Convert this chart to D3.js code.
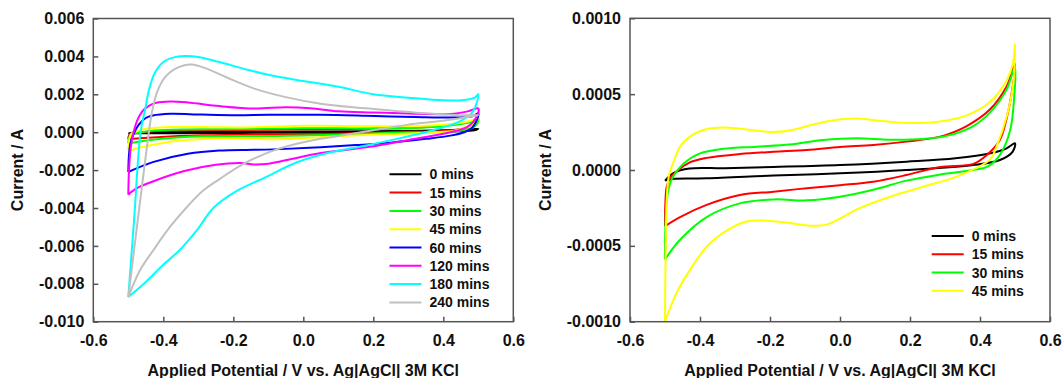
<!DOCTYPE html>
<html>
<head>
<meta charset="utf-8">
<script src="https://cdn.jsdelivr.net/npm/d3@7"></script>
<style>
  html, body { margin: 0; padding: 0; background: #fff; }
  svg { display: block; font-family: "Liberation Sans", Arial, sans-serif; }
</style>
</head>
<body>
<svg id="chart" width="1064" height="378"></svg>
<script>
// Cyclic voltammograms: [potential (V), current (A)] — anodic sweep, then the return sweep.
const seriesLabels = ["0 mins", "15 mins", "30 mins", "45 mins", "60 mins", "120 mins", "180 mins", "240 mins"];
const seriesColors = ["#000000", "#ff0000", "#00ff00", "#ffff00", "#0000ff", "#ff00ff", "#00ffff", "#c0c0c0"];

const loop0 = [
  [-0.5, -0.00007], [-0.476, -0.00002], [-0.43, 0.00001], [-0.33, 0.000012], [-0.19, 0.00002], [0, 0.000033],
  [0.19, 0.000055], [0.33, 0.000077], [0.43, 0.00011], [0.476, 0.000143], [0.5, 0.000176],
  [0.493, 0.00012], [0.457, 0.000066], [0.381, 0.000033], [0.19, 0.0], [0, -0.000022], [-0.19, -0.000037],
  [-0.381, -0.000055], [-0.476, -0.000058], [-0.5, -0.00007]
];
const loop15 = [
  [-0.5, -0.00037], [-0.499, -0.00022], [-0.495, -0.00011], [-0.485, -0.00005], [-0.467, -0.00001], [-0.429, 0.00005],
  [-0.381, 0.00008], [-0.286, 0.000105], [-0.19, 0.00012], [-0.095, 0.000132], [0, 0.000152], [0.095, 0.000165],
  [0.19, 0.000187], [0.286, 0.00022], [0.362, 0.00029], [0.429, 0.0004], [0.476, 0.00055], [0.5, 0.0007],
  [0.49, 0.0005], [0.476, 0.00034], [0.457, 0.0002], [0.42, 0.0001], [0.381, 0.00004], [0.286, 0.00002],
  [0.19, -0.000033], [0.095, -0.000077], [0, -0.0001], [-0.095, -0.00012], [-0.19, -0.000143], [-0.286, -0.000165],
  [-0.381, -0.00023], [-0.457, -0.00031], [-0.5, -0.00037]
];
const loop30 = [
  [-0.5, -0.00059], [-0.499, -0.0004], [-0.495, -0.0002], [-0.487, -0.0001], [-0.476, -0.00004], [-0.448, 0.00004],
  [-0.4, 0.00011], [-0.333, 0.00014], [-0.238, 0.000154], [-0.143, 0.000168], [-0.048, 0.000198], [0.048, 0.00021],
  [0.143, 0.0002], [0.238, 0.000205], [0.305, 0.000225], [0.381, 0.00029], [0.429, 0.00038], [0.476, 0.00053], [0.5, 0.00068],
  [0.497, 0.00046], [0.486, 0.00026], [0.457, 0.0001], [0.42, 0.00002], [0.381, 0.0], [0.286, -0.00003],
  [0.19, -0.00007], [0.095, -0.00013], [0, -0.000176], [-0.095, -0.0002], [-0.19, -0.000194], [-0.286, -0.00022],
  [-0.381, -0.00031], [-0.457, -0.00046], [-0.5, -0.00059]
];
const loop45 = [
  [-0.5, -0.001], [-0.499, -0.0007], [-0.497, -0.0004], [-0.494, -0.00015], [-0.489, -0.00004], [-0.476, 0.00005],
  [-0.457, 0.000154], [-0.429, 0.00022], [-0.381, 0.00027], [-0.333, 0.00028], [-0.286, 0.000272], [-0.24, 0.00026],
  [-0.19, 0.00025], [-0.143, 0.00026], [-0.076, 0.0003], [0, 0.000334], [0.048, 0.00034], [0.095, 0.00033],
  [0.19, 0.00031], [0.286, 0.00032], [0.362, 0.00036], [0.429, 0.00045], [0.476, 0.00059], [0.494, 0.0007], [0.5, 0.00083],
  [0.495, 0.00057], [0.476, 0.00035], [0.448, 0.00016], [0.429, 0.00007], [0.333, -0.000044], [0.238, -0.00011],
  [0.143, -0.000176], [0.048, -0.00026], [0, -0.00032], [-0.038, -0.00036], [-0.086, -0.000367], [-0.143, -0.00035],
  [-0.21, -0.000334], [-0.267, -0.00034], [-0.324, -0.0004], [-0.381, -0.000506], [-0.429, -0.00066],
  [-0.467, -0.00081], [-0.5, -0.001]
];
const loop60 = [
  [-0.5, -0.0021], [-0.498, -0.0012], [-0.494, -0.0006], [-0.485, -0.0001], [-0.47, 0.0004], [-0.45, 0.00075],
  [-0.43, 0.00088], [-0.38, 0.00097], [-0.29, 0.00093], [-0.19, 0.0009], [-0.1, 0.00092], [0.05, 0.00092],
  [0.18, 0.00087], [0.32, 0.0008], [0.45, 0.00078], [0.485, 0.00085], [0.5, 0.001],
  [0.495, 0.0006], [0.48, 0.0002], [0.46, 0.0], [0.42, -0.00018], [0.35, -0.00035], [0.25, -0.00055],
  [0.15, -0.00068], [0.05, -0.00079], [-0.05, -0.00088], [-0.14, -0.00093], [-0.24, -0.00097], [-0.33, -0.00114],
  [-0.43, -0.00158], [-0.5, -0.0021]
];
const loop120 = [
  [-0.5, -0.0033], [-0.498, -0.002], [-0.493, -0.0008], [-0.485, 0.0], [-0.475, 0.0006], [-0.46, 0.0011],
  [-0.44, 0.0014], [-0.42, 0.00155], [-0.38, 0.00162], [-0.33, 0.00157], [-0.24, 0.00138], [-0.14, 0.00125],
  [-0.05, 0.00132], [0.02, 0.00127], [0.1, 0.0011], [0.2, 0.00104], [0.3, 0.00099], [0.42, 0.00096],
  [0.47, 0.0011], [0.5, 0.00125],
  [0.495, 0.0008], [0.47, 0.0003], [0.42, 0.0], [0.32, -0.00035], [0.18, -0.0008], [0.05, -0.0011],
  [-0.03, -0.0014], [-0.1, -0.00166], [-0.14, -0.0017], [-0.18, -0.00163], [-0.25, -0.00172], [-0.34, -0.00205],
  [-0.43, -0.0026], [-0.48, -0.003], [-0.5, -0.0033]
];
const loop180 = [
  [-0.5, -0.0087], [-0.483, -0.0045], [-0.465, 0.0], [-0.452, 0.0012], [-0.44, 0.0023], [-0.425, 0.0031],
  [-0.4, 0.0037], [-0.37, 0.00395], [-0.34, 0.00402], [-0.3, 0.00397], [-0.24, 0.0037], [-0.16, 0.0033],
  [-0.1, 0.00303], [0.0, 0.0027], [0.1, 0.0024], [0.2, 0.002], [0.3, 0.00182], [0.4, 0.00168],
  [0.46, 0.0017], [0.49, 0.00182], [0.5, 0.002],
  [0.485, 0.0011], [0.45, 0.0006], [0.37, 0.0001], [0.28, -0.0003], [0.18, -0.0007], [0.07, -0.0011],
  [-0.02, -0.0016], [-0.11, -0.0024], [-0.19, -0.0031], [-0.257, -0.004], [-0.305, -0.0052], [-0.352, -0.0062],
  [-0.4, -0.007], [-0.45, -0.0079], [-0.5, -0.0087]
];
const loop240 = [
  [-0.5, -0.0087], [-0.472, -0.0045], [-0.447, -0.0008], [-0.432, 0.0011], [-0.418, 0.0021], [-0.395, 0.0029],
  [-0.37, 0.0033], [-0.34, 0.00353], [-0.32, 0.00357], [-0.28, 0.00338], [-0.22, 0.0029], [-0.14, 0.0023],
  [-0.05, 0.00185], [0.05, 0.0015], [0.15, 0.0013], [0.25, 0.00115], [0.35, 0.001], [0.45, 0.0009], [0.5, 0.0009],
  [0.47, 0.0008], [0.4, 0.0006], [0.3, 0.0004], [0.2, 0.0001], [0.1, -0.0002], [0.0, -0.00053],
  [-0.086, -0.00097], [-0.171, -0.00167], [-0.238, -0.00246], [-0.286, -0.00308], [-0.333, -0.00396],
  [-0.381, -0.005], [-0.429, -0.00624], [-0.467, -0.0073], [-0.5, -0.0087]
];

const xTicks = [-0.6, -0.4, -0.2, 0.0, 0.2, 0.4, 0.6];
const xTickLabels = ["-0.6", "-0.4", "-0.2", "0.0", "0.2", "0.4", "0.6"];
const leftYTicks = [-0.010, -0.008, -0.006, -0.004, -0.002, 0.000, 0.002, 0.004, 0.006];
const leftYTickLabels = ["-0.010", "-0.008", "-0.006", "-0.004", "-0.002", "0.000", "0.002", "0.004", "0.006"];
const rightYTicks = [-0.0010, -0.0005, 0.0, 0.0005, 0.0010];
const rightYTickLabels = ["-0.0010", "-0.0005", "0.0000", "0.0005", "0.0010"];

const xTitle = "Applied Potential / V vs. Ag|AgCl| 3M KCl";
const yTitle = "Current / A";

const svg = d3.select("#chart");
const frameColor = "#555";
const textColor = "#111";

function drawPanel(cfg) {
  const g = svg.append("g");
  const x = d3.scaleLinear().domain([-0.6, 0.6]).range([cfg.left, cfg.right]);
  const y = d3.scaleLinear().domain(cfg.yDomain).range([cfg.bottom, cfg.top]);

  const line = d3.line()
    .x(d => x(d[0]))
    .y(d => y(d[1]))
    .curve(d3.curveCatmullRom.alpha(0.5));

  cfg.loops.forEach((pts, i) => {
    g.append("path")
      .attr("d", line(pts))
      .attr("fill", "none")
      .attr("stroke", seriesColors[i])
      .attr("stroke-width", 2)
      .attr("stroke-linejoin", "round");
  });

  // plot frame
  g.append("rect")
    .attr("x", cfg.left).attr("y", cfg.top)
    .attr("width", cfg.right - cfg.left).attr("height", cfg.bottom - cfg.top)
    .attr("fill", "none").attr("stroke", frameColor).attr("stroke-width", 1.5);

  const xAxis = d3.axisBottom(x)
    .tickValues(xTicks)
    .tickFormat((d, i) => xTickLabels[i])
    .tickSizeInner(-5).tickSizeOuter(0).tickPadding(13);
  const gx = g.append("g").attr("transform", `translate(0,${cfg.bottom})`).call(xAxis);

  const yAxis = d3.axisLeft(y)
    .tickValues(cfg.yTicks)
    .tickFormat((d, i) => cfg.yTickLabels[i])
    .tickSizeInner(-5).tickSizeOuter(0).tickPadding(9);
  const gy = g.append("g").attr("transform", `translate(${cfg.left},0)`).call(yAxis);

  [gx, gy].forEach(a => {
    a.select(".domain").remove();
    a.selectAll(".tick line").attr("stroke", frameColor).attr("stroke-width", 1.5);
    a.selectAll(".tick text")
      .attr("fill", textColor)
      .style("font-size", "16px")
      .style("font-weight", "bold");
  });

  // axis titles
  g.append("text")
    .attr("x", (cfg.left + cfg.right) / 2).attr("y", 376)
    .attr("text-anchor", "middle")
    .attr("fill", textColor)
    .style("font-size", "16px").style("font-weight", "bold")
    .text(xTitle);

  g.append("text")
    .attr("transform", `translate(${cfg.yTitleX},${(cfg.top + cfg.bottom) / 2}) rotate(-90)`)
    .attr("text-anchor", "middle")
    .attr("dominant-baseline", "central")
    .attr("fill", textColor)
    .style("font-size", "16px").style("font-weight", "bold")
    .text(yTitle);

  // legend
  const lg = g.append("g");
  cfg.loops.forEach((pts, i) => {
    const ly = cfg.legendY + i * cfg.legendStep;
    lg.append("line")
      .attr("x1", cfg.legendX).attr("x2", cfg.legendX + 32)
      .attr("y1", ly).attr("y2", ly)
      .attr("stroke", seriesColors[i]).attr("stroke-width", 2);
    lg.append("text")
      .attr("x", cfg.legendX + 40).attr("y", ly)
      .attr("dominant-baseline", "central")
      .attr("fill", textColor)
      .style("font-size", "14px").style("font-weight", "bold")
      .text(seriesLabels[i]);
  });
}

drawPanel({
  left: 93.3, right: 513.3, top: 18.5, bottom: 321.7,
  yDomain: [-0.010, 0.006],
  yTicks: leftYTicks, yTickLabels: leftYTickLabels,
  loops: [loop0, loop15, loop30, loop45, loop60, loop120, loop180, loop240],
  yTitleX: 17,
  legendX: 389.5, legendY: 174.3, legendStep: 18.3
});

drawPanel({
  left: 630, right: 1050, top: 18.3, bottom: 321.7,
  yDomain: [-0.0010, 0.0010],
  yTicks: rightYTicks, yTickLabels: rightYTickLabels,
  loops: [loop0, loop15, loop30, loop45],
  yTitleX: 545,
  legendX: 931.7, legendY: 236, legendStep: 18.25
});
</script>
</body>
</html>
